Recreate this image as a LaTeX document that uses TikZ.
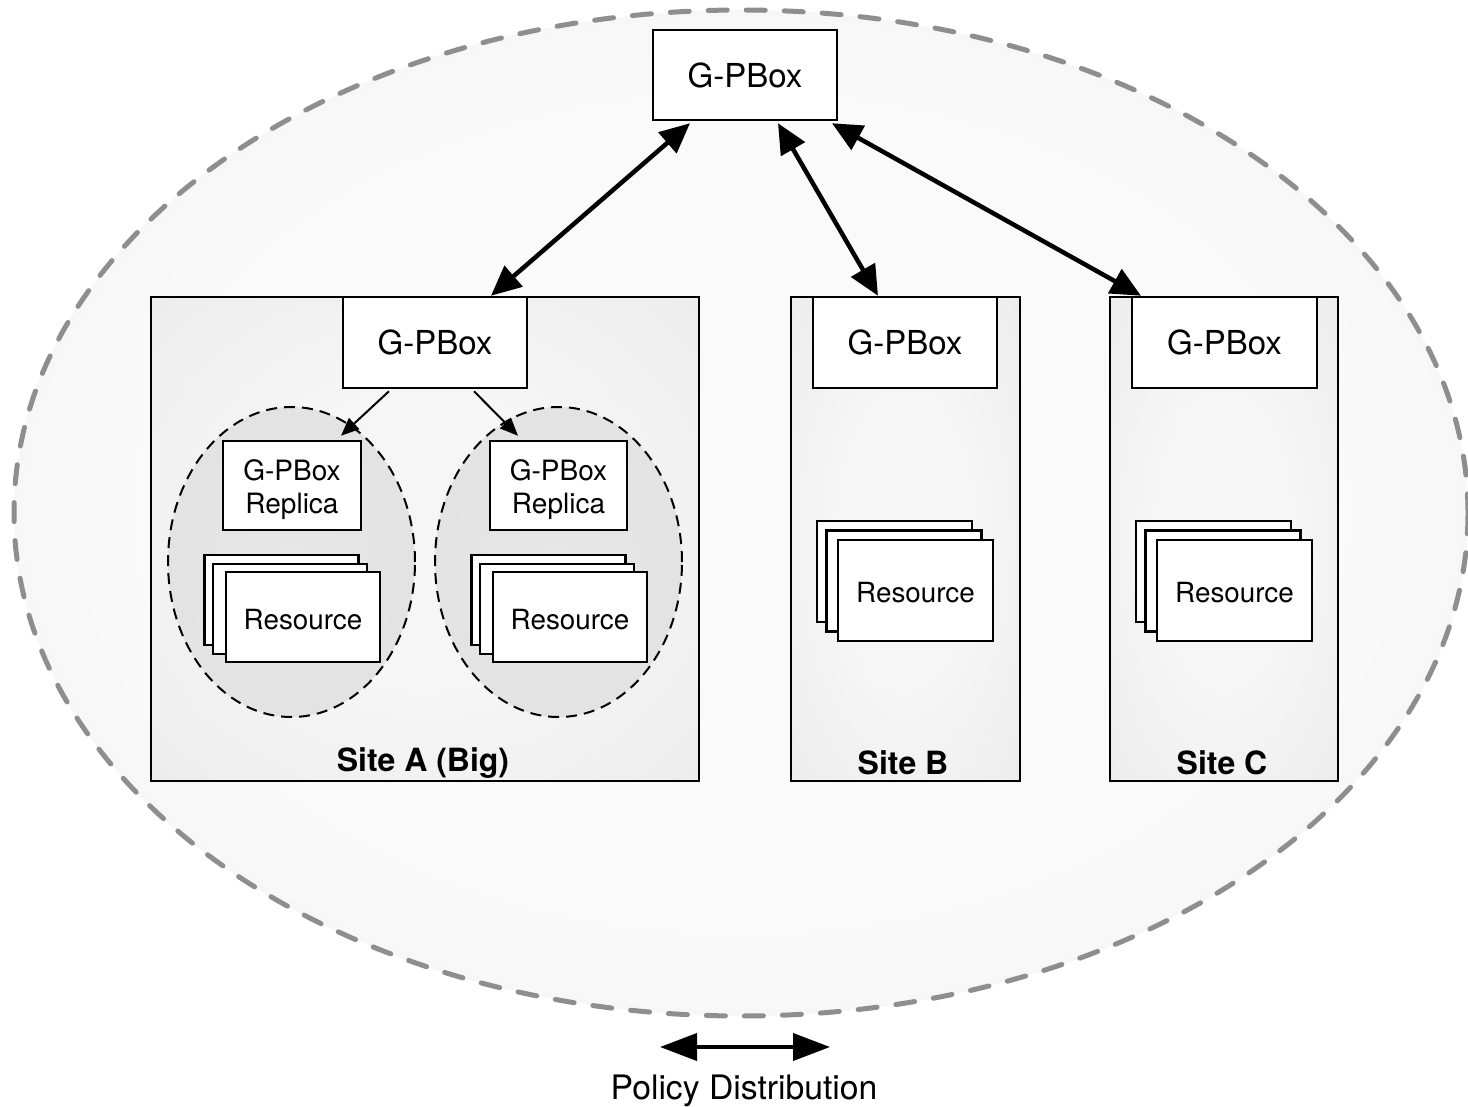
\documentclass[tikz,border=0pt]{standalone}
\usepackage{fontspec}
\setmainfont{TeX Gyre Heros}
\usetikzlibrary{arrows.meta,shapes.geometric,calc}
\definecolor{outeredge}{HTML}{EAEAEA}
\definecolor{outercenter}{HTML}{FAFAFA}
\definecolor{siteedge}{HTML}{E6E6E6}
\definecolor{sitecenter}{HTML}{F6F6F6}
\definecolor{repedge}{HTML}{DFDFDF}
\definecolor{repcenter}{HTML}{E7E7E7}
\definecolor{dashgray}{HTML}{8E8E8E}
\pgfdeclareradialshading{outershade}{\pgfpoint{0bp}{0bp}}{color(0bp)=(outercenter); color(20bp)=(outercenter); color(50bp)=(outeredge); color(72bp)=(outeredge)}
\pgfdeclareradialshading{siteshade}{\pgfpoint{0bp}{0bp}}{color(0bp)=(sitecenter); color(15bp)=(sitecenter); color(50bp)=(siteedge); color(72bp)=(siteedge)}
\pgfdeclareradialshading{repshade}{\pgfpoint{0bp}{0bp}}{color(0bp)=(repcenter); color(50bp)=(repedge); color(72bp)=(repedge)}
\tikzset{
  outerell/.style={ellipse, draw=dashgray, line width=5pt, line cap=round, dash pattern=on 19pt off 19pt,
    shading=outershade},
  sitebox/.style={rectangle, draw=black, line width=2.5pt, shading=siteshade},
  repell/.style={ellipse, draw=black, line width=2pt, dash pattern=on 11pt off 7pt,
    shading=repshade},
  gbox/.style={rectangle, draw=black, fill=white, line width=2.5pt, minimum width=184pt, minimum height=91pt,
    font=\fontsize{33}{36}\selectfont},
  repbox/.style={rectangle, draw=black, fill=white, line width=2.5pt, minimum width=138pt, minimum height=89pt,
    align=center, font=\fontsize{28}{33}\selectfont},
  resbox/.style={rectangle, draw=black, fill=white, line width=2.5pt, minimum width=154pt, minimum height=90pt,
    font=\fontsize{27.8}{32}\selectfont},
  resboxb/.style={resbox, minimum width=155pt, minimum height=101pt},
  sitelabel/.style={font=\bfseries\fontsize{32}{36}\selectfont},
  bigarrow/.style={line width=4.5pt, {Triangle[length=30pt,width=27pt]}-{Triangle[length=30pt,width=27pt]}},
  smallarrow/.style={line width=2pt, -{Triangle[length=18pt,width=15pt]}},
  policyarrow/.style={line width=4pt, {Triangle[length=37pt,width=27pt]}-{Triangle[length=37pt,width=27pt]}},
}
\newcommand{\lowered}[2]{\raisebox{-#1}[\height][\depth]{#2}}
\newcommand{\replicatext}{\lowered{5pt}{\begin{tabular}{@{}c@{}}G-PBox\\Replica\end{tabular}}}
\begin{document}
\begin{tikzpicture}[x=1pt,y=-1pt]
\useasboundingbox (0,0) rectangle (1468,1107);
% outer domain
\node[outerell, minimum width=1454pt, minimum height=1006pt] (domain) at (741,513) {};
% sites
\node[sitebox, minimum width=548pt, minimum height=484pt] (siteA) at (425,539) {};
\node[sitebox, minimum width=229pt, minimum height=484pt] (siteB) at (905.5,539) {};
\node[sitebox, minimum width=228pt, minimum height=484pt] (siteC) at (1224,539) {};
% replica ellipses
\node[repell, minimum width=247pt, minimum height=310pt] (ellL) at (291.5,562) {};
\node[repell, minimum width=247pt, minimum height=310pt] (ellR) at (558.5,562) {};
% G-PBoxes
\node[gbox, minimum height=90pt] (top) at (745,75) {G-PBox};
\node[gbox] (gA) at (435,342.5) {G-PBox};
\node[gbox] (gB) at (905,342.5) {G-PBox};
\node[gbox, minimum width=185pt] (gC) at (1224.5,342.5) {G-PBox};
% replicas
\node[repbox] (repL) at (292,485.5) {\replicatext};
\node[repbox, minimum width=137pt] (repR) at (558.5,485.5) {\replicatext};
% resource stacks, site A left
\node[resbox] (resLb) at (281.5,600) {};
\node[resbox] (resLm) at (290,609) {};
\node[resbox] (resL) at (303,617) {\lowered{3pt}{Resource}};
% site A right
\node[resbox] (resRb) at (548.5,600) {};
\node[resbox] (resRm) at (557,609) {};
\node[resbox] (resR) at (570,617) {\lowered{3pt}{Resource}};
% site B
\node[resboxb] (resBb) at (894.5,571.5) {};
\node[resboxb] (resBm) at (904,581) {};
\node[resboxb] (resB) at (915.5,590.5) {\lowered{2pt}{Resource}};
% site C
\node[resboxb] (resCb) at (1213.5,571.5) {};
\node[resboxb] (resCm) at (1223,581) {};
\node[resboxb] (resC) at (1234.5,590.5) {\lowered{2pt}{Resource}};
% site labels
\node[sitelabel] (labA) at (423,763) {Site A (Big)};
\node[sitelabel] (labB) at (903,763) {Site B};
\node[sitelabel] (labC) at (1222,763) {Site C};
% arrows
\draw[bigarrow] ([xshift=-55pt,yshift=-2pt]top.south) -- ([xshift=56pt]gA.north);
\draw[bigarrow] ([xshift=33pt,yshift=-2pt]top.south) -- ([xshift=-27pt]gB.north);
\draw[bigarrow] ([xshift=87pt,yshift=-2pt]top.south) -- ([xshift=-83.5pt]gC.north);
\draw[smallarrow] ([xshift=-46pt,yshift=-2pt]gA.south) -- ([xshift=49pt,yshift=4pt]repL.north);
\draw[smallarrow] ([xshift=39pt,yshift=-2pt]gA.south) -- ([xshift=-40.5pt,yshift=4pt]repR.north);
% legend
\coordinate (pl) at (660,1047);
\coordinate (pr) at (830,1047);
\draw[policyarrow] (pl) -- (pr);
\node[font=\fontsize{33.7}{38}\selectfont] (legend) at (744,1091) {Policy Distribution};
\end{tikzpicture}
\end{document}
